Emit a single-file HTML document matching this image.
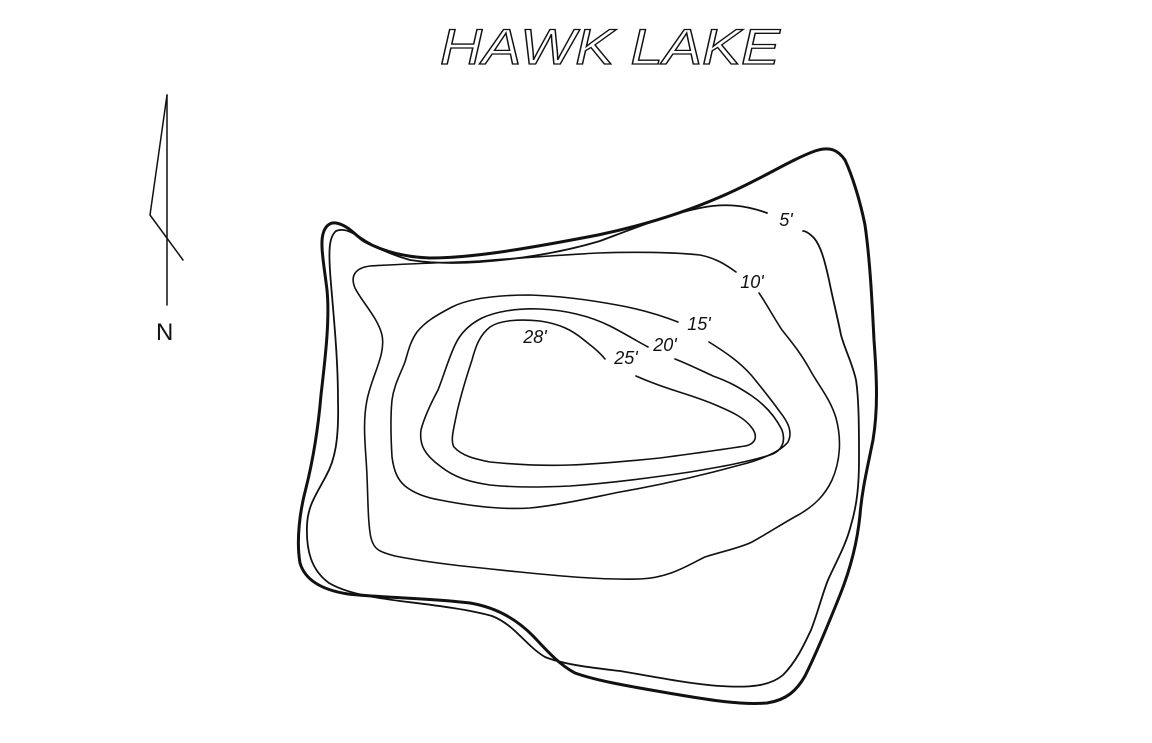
<!DOCTYPE html>
<html><head><meta charset="utf-8"><style>
html,body{margin:0;padding:0;background:#fff;}
svg{display:block;}
</style></head><body>
<svg width="1152" height="743" viewBox="0 0 1152 743" xmlns="http://www.w3.org/2000/svg">
<g fill="none" stroke="#111" stroke-linejoin="round" stroke-linecap="round">
<!-- shoreline -->
<path stroke-width="3" d="M323,234 C325,226 330,222 336,223 C348,225 356,236 364,241 C380,250 400,257 430,258 C470,258 520,250 598,235 C650,224 690,210 720,197 C760,180 790,160 815,151 C830,146 838,150 845,160 C852,175 860,200 865,225 C870,260 872,300 874,340 C877,380 878,410 873,440 C867,470 862,490 860,515 C857,545 850,570 840,595 C830,620 818,650 805,676 C797,690 787,700 767,703 C740,705 710,700 680,695 C640,688 600,682 575,673 C560,665 548,652 535,638 C520,622 500,608 470,603 C430,598 385,598 348,594 C322,590 305,580 300,563 C296,540 300,510 306,488 C313,460 318,430 321,395 C325,360 330,320 327,290 C324,265 320,245 323,234 Z"/>
<!-- 5' -->
<path stroke-width="1.8" d="M767,213 C745,205 725,203 700,208 C670,214 640,226 600,241 C560,253 520,259 480,262 C450,264 430,263 410,260 C392,255 377,248 366,241 C355,234 345,227 336,231 C329,237 328,250 331,284 C334,320 338,360 338,400 C339,440 335,460 326,476 C316,495 308,505 307,525 C306,550 311,570 329,583 C346,593 370,597 400,601 C432,605 468,609 492,616 C515,625 525,645 545,657 C565,665 595,668 620,671 C650,676 690,684 720,686 C750,688 770,686 783,675 C796,662 804,645 811,630 C818,612 822,595 828,580 C836,562 846,545 851,525 C857,505 859,485 859,460 C859,430 859,400 856,380 C852,362 845,350 841,335 C837,315 833,300 829,280 C825,262 821,246 814,238 C809,233 806,231 803,231"/>
<!-- 10' -->
<path stroke-width="1.6" d="M736,272 C725,264 715,258 700,255 C670,252 630,252 598,253 C560,255 520,258 480,261 C440,263 400,264 370,266 C355,268 350,276 355,288 C362,302 378,318 382,335 C386,355 372,375 367,400 C362,425 366,450 367,476 C368,500 368,525 371,538 C374,550 380,552 395,556 C430,563 470,567 520,572 C560,576 600,580 640,579 C670,578 690,564 705,557 C720,552 740,548 752,542 C770,532 785,522 800,514 C815,505 825,495 832,480 C840,462 842,440 836,418 C830,398 818,385 809,368 C800,352 790,340 782,330 C774,318 766,303 759,293"/>
<!-- 15' -->
<path stroke-width="1.6" d="M678,322 C660,315 640,309 617,305 C590,300 560,296 530,295 C500,295 470,298 452,307 C435,316 425,322 417,332 C410,342 408,352 405,362 C400,375 394,385 392,400 C390,420 391,440 392,457 C394,472 398,480 405,486 C415,494 428,498 440,500 C470,506 500,510 530,508 C560,505 590,498 620,492 C660,485 700,476 740,465 C760,460 780,452 788,442 C793,432 788,422 780,412 C770,398 760,386 752,376 C740,362 725,352 709,342"/>
<!-- 20' -->
<path stroke-width="1.6" d="M648,347 C635,340 622,332 610,326 C590,316 565,310 540,309 C515,308 495,312 482,318 C468,325 460,334 455,345 C448,360 444,375 438,390 C430,405 424,418 421,430 C419,445 425,455 440,466 C455,478 470,482 490,485 C520,488 545,487 570,486 C610,483 650,478 690,472 C720,467 748,462 770,455 C782,451 786,442 782,430 C775,416 765,405 752,396 C740,388 730,382 713,376 C700,370 688,364 675,359"/>
<!-- 25' -->
<path stroke-width="1.6" d="M605,359 C598,350 590,345 584,340 C572,330 560,324 540,321 C520,319 500,320 490,327 C480,335 476,345 472,360 C466,378 461,395 457,412 C454,428 450,440 454,447 C462,456 475,459 490,462 C520,465 545,466 570,465 C600,464 630,461 660,458 C690,454 720,450 745,446 C756,444 758,436 752,428 C745,418 732,412 718,406 C700,398 685,394 670,389 C655,384 645,380 636,376"/>
<!-- north arrow -->
<path stroke-width="1.5" d="M167,95 L167,305"/>
<path stroke-width="1.5" d="M167,95 L150,215 L183,260"/>
</g>
<text x="610" y="64" style="font-family:'Liberation Sans',sans-serif;font-size:50px;font-style:italic;fill:none;stroke:#111;stroke-width:1.3;" textLength="340" lengthAdjust="spacingAndGlyphs" text-anchor="middle">HAWK  LAKE</text>
<text x="156" y="340" style="font-family:'Liberation Sans',sans-serif;font-size:24px;fill:#111;">N</text>
<g style="font-family:'Liberation Sans',sans-serif;font-size:18px;font-style:italic;fill:#111;" text-anchor="middle">
<text x="786" y="226">5'</text>
<text x="752" y="288">10'</text>
<text x="699" y="330">15'</text>
<text x="665" y="351">20'</text>
<text x="626" y="364">25'</text>
<text x="535" y="343">28'</text>
</g>
</svg>
</body></html>
